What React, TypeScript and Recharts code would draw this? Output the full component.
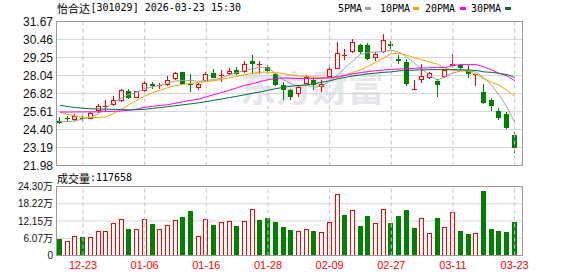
import React from 'react';
import { ComposedChart, Bar, Line, XAxis, YAxis, CartesianGrid, ReferenceLine } from 'recharts';

// ---- data ----
const opens = [24.98, 25.16, 25.03, 25.15, 25.14, 25.65, 25.98, 26.03, 26.30, 26.97,
  26.55, 26.99, 27.49, 27.35, 27.38, 27.83, 28.25, 27.49, 27.20, 27.66,
  28.20, 28.02, 28.13, 28.38, 28.27, 28.99, 28.82, 28.60, 28.16, 27.38,
  27.04, 26.82, 27.49, 27.71, 27.26, 27.93, 28.50, 29.40, 29.61, 30.06,
  30.11, 29.23, 29.61, 30.13, 29.17, 28.94, 27.08, 27.76, 27.89, 27.66,
  27.93, 28.65, 28.72, 28.31, 28.10, 26.93, 26.42, 25.65, 25.43, 24.02];
const highs = [25.25, 25.29, 25.45, 25.36, 25.59, 26.15, 26.37, 26.64, 27.15, 27.15,
  27.00, 27.64, 27.60, 27.53, 27.98, 28.30, 28.28, 28.16, 27.50, 28.27,
  28.45, 28.38, 28.56, 28.60, 28.99, 29.39, 29.01, 28.76, 28.18, 27.60,
  27.15, 27.38, 28.05, 27.93, 27.71, 28.72, 30.28, 29.84, 30.51, 30.17,
  30.20, 29.60, 30.84, 30.35, 29.39, 29.17, 27.76, 28.79, 28.27, 27.82,
  28.50, 29.46, 28.79, 28.72, 28.16, 27.49, 26.52, 25.88, 25.59, 24.24];
const lows = [24.78, 24.96, 25.00, 24.98, 25.10, 25.52, 25.65, 26.00, 26.25, 26.46,
  26.50, 26.95, 27.15, 27.15, 27.30, 27.75, 27.44, 26.93, 27.09, 27.60,
  27.85, 27.60, 28.05, 28.05, 28.20, 28.16, 28.16, 28.16, 27.31, 26.37,
  26.42, 26.59, 27.45, 27.04, 26.93, 27.90, 28.45, 29.05, 29.55, 29.50,
  29.05, 29.00, 29.55, 29.84, 28.83, 27.33, 27.05, 27.53, 27.80, 26.59,
  27.90, 28.62, 28.40, 27.89, 27.31, 26.15, 25.63, 25.03, 24.45, 22.83];
const closes = [24.81, 25.12, 25.32, 25.10, 25.48, 25.97, 26.00, 26.42, 27.04, 26.55,
  26.97, 27.53, 27.31, 27.38, 27.71, 28.20, 27.49, 27.38, 27.49, 28.11,
  27.89, 28.05, 28.31, 28.16, 28.79, 28.80, 28.84, 28.34, 27.38, 27.04,
  26.59, 27.26, 27.93, 27.38, 27.49, 28.50, 29.57, 29.44, 30.28, 29.61,
  29.12, 29.50, 30.40, 29.99, 29.01, 27.49, 27.10, 27.98, 28.20, 27.42,
  28.43, 28.79, 28.56, 28.16, 28.12, 26.19, 25.97, 25.18, 24.51, 23.13];
const ma5 = [24.95, 24.93, 24.98, 25.12, 25.21, 25.48, 25.88, 26.22, 26.53, 26.77,
  26.93, 27.15, 27.26, 27.38, 27.53, 27.66, 27.71, 27.71, 27.64, 27.71,
  27.76, 27.87, 28.09, 28.23, 28.38, 28.50, 28.60, 28.54, 28.18, 27.76,
  27.49, 27.31, 27.38, 27.26, 27.33, 27.66, 28.05, 28.56, 29.01, 29.46,
  29.59, 29.61, 29.66, 29.74, 29.61, 29.28, 28.87, 28.43, 28.05, 27.71,
  27.98, 28.20, 28.34, 28.34, 28.27, 27.89, 27.38, 26.71, 25.92, 24.91];
const ma10 = [25.57, 25.43, 25.30, 25.23, 25.21, 25.21, 25.26, 25.48, 25.75, 26.08,
  26.37, 26.64, 26.86, 27.04, 27.22, 27.36, 27.44, 27.51, 27.56, 27.63,
  27.69, 27.78, 27.89, 27.98, 28.09, 28.18, 28.25, 28.27, 28.23, 28.16,
  28.07, 28.00, 27.98, 27.93, 27.91, 27.89, 27.91, 28.05, 28.25, 28.42,
  28.65, 28.92, 29.21, 29.50, 29.52, 29.41, 29.23, 29.10, 28.94, 28.79,
  28.54, 28.38, 28.38, 28.34, 28.11, 27.83, 27.58, 27.38, 27.04, 26.64];
const ma20 = [25.58, 25.58, 25.58, 25.59, 25.59, 25.59, 25.61, 25.63, 25.65, 25.70,
  25.78, 25.90, 25.96, 26.02, 26.07, 26.17, 26.27, 26.37, 26.44, 26.60,
  26.75, 26.90, 27.04, 27.21, 27.38, 27.48, 27.64, 27.75, 27.83, 27.87,
  27.85, 27.83, 27.83, 27.83, 27.85, 27.87, 27.95, 28.05, 28.15, 28.23,
  28.30, 28.36, 28.40, 28.45, 28.47, 28.50, 28.52, 28.54, 28.56, 28.57,
  28.57, 28.72, 28.77, 28.77, 28.77, 28.62, 28.42, 28.18, 28.01, 27.68];
const ma30 = [26.03, 25.95, 25.88, 25.83, 25.80, 25.78, 25.77, 25.76, 25.75, 25.72,
  25.73, 25.76, 25.82, 25.88, 25.94, 26.00, 26.07, 26.13, 26.20, 26.28,
  26.37, 26.46, 26.55, 26.64, 26.74, 26.84, 26.93, 27.04, 27.15, 27.24,
  27.32, 27.37, 27.41, 27.48, 27.58, 27.68, 27.81, 27.91, 28.01, 28.08,
  28.15, 28.20, 28.25, 28.28, 28.35, 28.38, 28.40, 28.41, 28.43, 28.43,
  28.43, 28.43, 28.42, 28.40, 28.38, 28.28, 28.25, 28.18, 28.09, 27.91];
// volume in 万 (10k)
const volumes = [5.66, 4.95, 6.96, 6.37, 6.60, 8.73, 8.73, 11.32, 12.97, 9.20,
  9.43, 12.97, 10.97, 9.43, 10.85, 12.62, 13.44, 15.57, 6.96, 12.97,
  10.61, 11.91, 12.26, 10.26, 12.26, 16.51, 12.38, 13.09, 11.79, 9.91,
  8.84, 8.49, 9.43, 8.49, 8.14, 11.67, 21.58, 14.15, 16.16, 10.26,
  13.80, 11.32, 16.51, 11.32, 13.80, 15.92, 9.55, 13.33, 7.78, 13.09,
  10.14, 15.45, 8.49, 7.43, 7.78, 22.64, 9.20, 8.49, 8.14, 11.77];
const volumeUp = [0, 1, 1, 0, 1, 1, 1, 1, 1, 0, 1, 1, 0, 1, 1, 1, 0, 0, 1, 1,
  0, 1, 1, 0, 1, 1, 0, 0, 0, 0, 0, 1, 1, 0, 1, 1, 1, 0, 1, 0,
  0, 1, 1, 0, 0, 0, 0, 1, 1, 0, 1, 1, 0, 0, 1, 0, 0, 0, 0, 0];
const priceTicks = [21.98, 23.19, 24.40, 25.61, 26.82, 28.04, 29.25, 30.46, 31.67];
const volumeTicks = [0, 6.07, 12.15, 18.22, 24.30];
const dateTickIndex = [3, 11, 19, 27, 35, 43, 51, 59];
const dateTickLabels = ['12-23', '01-06', '01-16', '01-28', '02-09', '02-27', '03-11', '03-23'];
const stockTitle = '怡合达';
const stockInfo = '[301029] 2026-03-23 15:30';
const volumeLabel = '成交量';
const lastVolume = '117658';
const maNames = ['5PMA', '10PMA', '20PMA', '30PMA'];

const rows = opens.map((o, i) => ({
  i,
  open: o,
  high: highs[i],
  low: lows[i],
  close: closes[i],
  ma5: ma5[i],
  ma10: ma10[i],
  ma20: ma20[i],
  ma30: ma30[i],
  vol: volumes[i],
  up: volumeUp[i] === 1,
}));

const RED = '#ff0000';
const GREEN = '#008000';
const MA_COLORS = ['#a0a0a0', '#f5a300', '#ff00ff', '#00703a'];
const LABEL_FONT = "'Liberation Sans', Arial, sans-serif";
const MONO = "'DejaVu Sans Mono', monospace";
const CJK = "'Noto Sans CJK SC', sans-serif";

function Candle(props: any) {
  const { x, y, width, height, index } = props;
  const d = props.payload && props.payload.open !== undefined ? props.payload : rows[index];
  const top0 = Math.min(y, y + height);
  const h0 = Math.abs(height);
  const span = d.high - d.low;
  const py = (v: number) => (span > 0 ? top0 + ((d.high - v) / span) * h0 : top0);
  const l = Math.round(x);
  const w = Math.max(1, Math.round(width));
  const cx = l + Math.floor(w / 2) + 0.5;
  const up = d.close >= d.open;
  const yHigh = Math.round(py(d.high));
  const yLow = Math.round(py(d.low));
  const yTop = Math.round(py(Math.max(d.open, d.close)));
  let yBot = Math.round(py(Math.min(d.open, d.close)));
  if (up) {
    const els: any[] = [];
    if (yTop > yHigh) els.push(<line key="u" x1={cx} x2={cx} y1={yHigh} y2={yTop} stroke={RED} strokeWidth={1} />);
    if (yBot - yTop <= 1) {
      els.push(<line key="b" x1={l} x2={l + w} y1={yTop + 0.5} y2={yTop + 0.5} stroke={RED} strokeWidth={1} />);
      if (yLow > yTop + 1) els.push(<line key="d" x1={cx} x2={cx} y1={yTop + 1} y2={yLow} stroke={RED} strokeWidth={1} />);
    } else {
      els.push(<rect key="b" x={l + 0.5} y={yTop + 0.5} width={w - 1} height={yBot - yTop - 1} fill="#fff" stroke={RED} strokeWidth={1} />);
      if (yLow > yBot) els.push(<line key="d" x1={cx} x2={cx} y1={yBot} y2={yLow} stroke={RED} strokeWidth={1} />);
    }
    return <g>{els}</g>;
  }
  if (yBot - yTop < 1) yBot = yTop + 1;
  return (
    <g>
      <line x1={cx} x2={cx} y1={yHigh} y2={Math.max(yLow, yBot)} stroke={GREEN} strokeWidth={1} />
      <rect x={l} y={yTop} width={w} height={yBot - yTop} fill={GREEN} />
    </g>
  );
}

function VolBar(props: any) {
  const { x, y, width, height, index } = props;
  const d = props.payload && props.payload.vol !== undefined ? props.payload : rows[index];
  const top0 = Math.min(y, y + height);
  const l = Math.round(x);
  const w = Math.max(1, Math.round(width));
  const t = Math.round(top0);
  const b = Math.round(top0 + Math.abs(height));
  if (d.up) {
    return <rect x={l + 0.5} y={t + 0.5} width={w - 1} height={Math.max(0, b - t - 1)} fill="#fff" stroke={RED} strokeWidth={1} />;
  }
  return <rect x={l} y={t} width={w} height={b - t} fill={GREEN} />;
}

const abs = (left: number, top: number, extra: any = {}) => ({ position: 'absolute' as const, left, top, ...extra });

export default function App() {
  const maKeys = ['ma5', 'ma10', 'ma20', 'ma30'];
  const legendText = [338, 380, 425, 471];
  const legendMark = [365, 413, 460, 505];
  return (
    <div style={{ position: 'absolute', left: 0, top: 0, width: 578, height: 276, background: '#fff', overflow: 'hidden' }}>
      {/* watermark */}
      <div style={abs(240, 62, { fontFamily: CJK, fontSize: 36, fontWeight: 700, color: '#e6e6eb', lineHeight: '48px', whiteSpace: 'nowrap' })}>东方财富</div>

      {/* title */}
      <div style={abs(57, 0, { fontFamily: CJK, fontSize: 11, lineHeight: '16px', color: '#000', whiteSpace: 'nowrap' })}>{stockTitle}</div>
      <div style={abs(90.5, 0, { fontFamily: MONO, fontSize: 10, lineHeight: '16px', color: '#000', whiteSpace: 'pre' })}>{stockInfo}</div>

      {/* MA legend */}
      {maNames.map((n, k) => (
        <React.Fragment key={n}>
          <div style={abs(legendText[k], 1, { fontFamily: MONO, fontSize: 10, lineHeight: '16px', color: '#000', whiteSpace: 'nowrap' })}>{n}</div>
          <div style={abs(legendMark[k], 7, { width: 6, height: 3, background: MA_COLORS[k] })} />
        </React.Fragment>
      ))}

      {/* price panel */}
      <div style={abs(0, 0)}>
        <ComposedChart width={578} height={178} data={rows} margin={{ top: 21.5, right: 55.5, bottom: 12.5, left: 0 }}>
          <CartesianGrid vertical={false} stroke="#d6d6d6" />
          <XAxis dataKey="i" type="category" hide padding={{ left: 0, right: 4 }} />
          <YAxis
            width={56}
            domain={[21.98, 31.67]}
            allowDataOverflow
            ticks={priceTicks}
            interval={0}
            tickLine={false}
            axisLine={false}
            tickSize={0}
            tickMargin={3}
            tick={{ fontSize: 12, fill: '#111', fontFamily: LABEL_FONT }}
            tickFormatter={(v: number) => v.toFixed(2)}
          />
          {dateTickIndex.map((t) => (
            <ReferenceLine key={t} x={t} stroke="#c4c4c4" strokeDasharray="4 3" ifOverflow="visible" />
          ))}
          <Bar dataKey={(d: any) => [d.low, d.high]} barSize={5} shape={Candle} isAnimationActive={false} />
          {maKeys.map((k, n) => (
            <Line key={k} dataKey={k} type="linear" stroke={MA_COLORS[n]} strokeWidth={1} dot={false} activeDot={false} isAnimationActive={false} />
          ))}
        </ComposedChart>
      </div>
      <div style={abs(56, 21, { width: 467, height: 145, border: '1px solid #9a9a9a', boxSizing: 'border-box', pointerEvents: 'none' })} />

      {/* volume label */}
      <div style={abs(57, 170, { fontFamily: CJK, fontSize: 11, lineHeight: '16px', color: '#000', whiteSpace: 'nowrap' })}>{volumeLabel}</div>
      <div style={abs(90, 170, { fontFamily: MONO, fontSize: 10, lineHeight: '16px', color: '#000', whiteSpace: 'nowrap' })}>{':' + lastVolume}</div>

      {/* volume panel */}
      <div style={abs(0, 170)}>
        <ComposedChart width={578} height={106} data={rows} margin={{ top: 16.5, right: 55.5, bottom: 0, left: 0 }}>
          <CartesianGrid vertical={false} stroke="#d6d6d6" />
          <XAxis
            dataKey="i"
            type="category"
            padding={{ left: 0, right: 4 }}
            height={20.5}
            ticks={dateTickIndex}
            interval={0}
            tickLine={false}
            axisLine={false}
            tickSize={0}
            tickMargin={6}
            tick={{ fontSize: 11, fill: RED, fontFamily: LABEL_FONT }}
            tickFormatter={(v: number) => dateTickLabels[dateTickIndex.indexOf(v)] ?? ''}
          />
          <YAxis
            width={56}
            domain={[0, 24.3]}
            allowDataOverflow
            ticks={volumeTicks}
            interval={0}
            tickLine={false}
            axisLine={false}
            tickSize={0}
            tickMargin={3}
            tick={{ fontSize: 10, fill: '#111', fontFamily: "'Liberation Sans', 'Noto Sans CJK SC', sans-serif" }}
            tickFormatter={(v: number) => (v === 0 ? '0' : v.toFixed(2) + '万')}
          />
          {dateTickIndex.map((t) => (
            <ReferenceLine key={t} x={t} stroke="#c4c4c4" strokeDasharray="4 3" ifOverflow="visible" />
          ))}
          <Bar dataKey="vol" barSize={5} shape={VolBar} isAnimationActive={false} />
        </ComposedChart>
      </div>
      <div style={abs(56, 186, { width: 467, height: 70, border: '1px solid #9a9a9a', boxSizing: 'border-box', pointerEvents: 'none' })} />
    </div>
  );
}
